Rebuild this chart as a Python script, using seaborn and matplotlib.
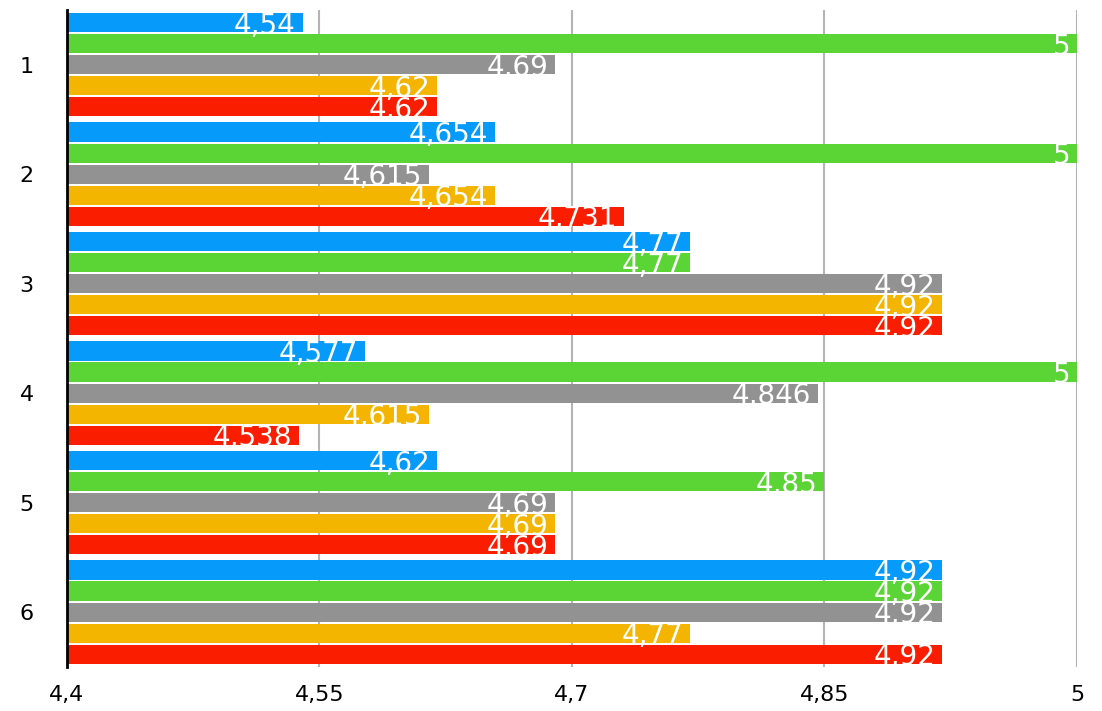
import pandas as pd
import numpy as np
import matplotlib.pyplot as plt
import seaborn as sns

groups = ["1", "2", "3", "4", "5", "6"]
series = ["A", "B", "C", "D", "E"]
colors = ["#069BFA", "#5BD435", "#929292", "#F3B500", "#FA1D00"]

vals_a = [4.54, 4.654, 4.77, 4.577, 4.62, 4.92]
vals_b = [5, 5, 4.77, 5, 4.85, 4.92]
vals_c = [4.69, 4.615, 4.92, 4.846, 4.69, 4.92]
vals_d = [4.62, 4.654, 4.92, 4.615, 4.69, 4.77]
vals_e = [4.62, 4.731, 4.92, 4.538, 4.69, 4.92]

xticks = [4.4, 4.55, 4.7, 4.85, 5]

rows = []
for s, vals in zip(series, [vals_a, vals_b, vals_c, vals_d, vals_e]):
    for g, v in zip(groups, vals):
        rows.append({"group": g, "series": s, "value": v})
df = pd.DataFrame(rows)

sns.set_style("white")
plt.rcParams["font.family"] = ["DejaVu Sans"]

fig = plt.figure(figsize=(11.02, 7.11), dpi=100)
ax = fig.add_axes([0.0608, 0.062, 0.9165, 0.924])

sns.barplot(data=df, y="group", x="value", hue="series", order=groups,
            hue_order=series, palette=colors, orient="h", width=0.96,
            gap=0.08, ax=ax, legend=False, edgecolor="none", saturation=1)

ax.set_xlim(4.4, 5)
ax.set_xticks(xticks)
ax.set_xticklabels([f"{t:g}".replace(".", ",") for t in xticks], fontsize=16)
ax.grid(axis="x", color="#B4B4B4", linewidth=1.5)
ax.set_axisbelow(True)
ax.tick_params(axis="x", length=4, color="#B4B4B4", width=1.5, pad=9,
               labelcolor="black")
ax.tick_params(axis="y", length=0, labelsize=16, pad=24, labelcolor="black")
ax.set_xlabel("")
ax.set_ylabel("")
for side in ["top", "right", "bottom"]:
    ax.spines[side].set_visible(False)
ax.spines["left"].set_color("black")
ax.spines["left"].set_linewidth(2)

# value labels at the bar ends, baseline near the bar bottom
for cont, vals in zip(ax.containers, [vals_a, vals_b, vals_c, vals_d, vals_e]):
    for rect, v in zip(cont, vals):
        y_bottom = rect.get_y() + rect.get_height()
        ax.annotate(f"{v:g}".replace(".", ","), (rect.get_x() + rect.get_width(), y_bottom),
                    xytext=(-5, -1), textcoords="offset points",
                    ha="right", va="baseline", color="white", fontsize=20,
                    zorder=5)

fig.savefig("out.png", dpi=100)
